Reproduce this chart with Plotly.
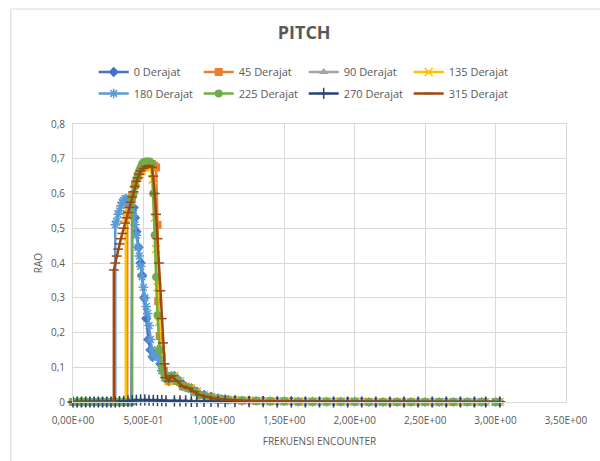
import plotly.graph_objects as go

# ---------------- data ----------------
x_low = [0.00, 0.03, 0.06, 0.09, 0.12, 0.15, 0.18, 0.21, 0.24, 0.27]
y_low = [0, 0, 0, 0, 0, 0, 0, 0, 0, 0]

x_tail_a = [0.70, 0.74, 0.78, 0.82, 0.86, 0.90, 0.95, 1.00, 1.05, 1.10, 1.20, 1.30, 1.40, 1.50,
            1.60, 1.70, 1.80, 1.90, 2.00, 2.10, 2.20, 2.30, 2.40, 2.50, 2.60, 2.70, 2.80, 2.90, 3.00]
x_tail_b = [0.72, 0.76, 0.80, 0.84, 0.88, 0.93, 0.98, 1.03, 1.08, 1.15, 1.25, 1.35, 1.45, 1.55,
            1.65, 1.75, 1.85, 1.95, 2.05, 2.15, 2.25, 2.35, 2.45, 2.55, 2.65, 2.75, 2.85, 2.93, 3.03]
y_tail_peak = [0.075, 0.06, 0.045, 0.04, 0.03, 0.02, 0.015, 0.01, 0.008, 0.006, 0.004, 0.003, 0.002, 0.002,
               0.001, 0.001, 0.001, 0.001, 0.001, 0, 0, 0, 0, 0, 0, 0, 0, 0, 0]
y_tail_flat = [0.003, 0.003, 0.003, 0.002, 0.002, 0.002, 0.002, 0.001, 0.001, 0.001, 0.001, 0.001, 0, 0,
               0, 0, 0, 0, 0, 0, 0, 0, 0, 0, 0, 0, 0, 0, 0]

x_mid_0 = [0.30, 0.33, 0.36, 0.39, 0.415, 0.42, 0.43, 0.44, 0.45, 0.465, 0.48, 0.49, 0.505, 0.52,
           0.535, 0.55, 0.565, 0.58, 0.60, 0.62, 0.64, 0.66, 0.68]
y_mid_0 = [0, 0, 0, 0, 0, 0.55, 0.56, 0.53, 0.49, 0.445, 0.40, 0.365, 0.30, 0.24,
           0.18, 0.15, 0.13, 0.135, 0.14, 0.11, 0.09, 0.07, 0.06]

x_mid_45 = [0.30, 0.33, 0.36, 0.385, 0.385, 0.40, 0.42, 0.44, 0.46, 0.48, 0.50, 0.52, 0.54, 0.56,
            0.575, 0.59, 0.60, 0.605, 0.615, 0.63, 0.645, 0.66, 0.68]
y_mid_45 = [0, 0, 0, 0, 0.54, 0.565, 0.595, 0.625, 0.65, 0.665, 0.675, 0.68, 0.685, 0.685,
            0.68, 0.675, 0.51, 0.29, 0.19, 0.13, 0.09, 0.07, 0.06]

x_mid_90 = [0.30, 0.33, 0.36, 0.39, 0.42, 0.45, 0.48, 0.51, 0.54, 0.57, 0.60, 0.63, 0.66]
y_mid_90 = [0, 0, 0.001, 0.002, 0.003, 0.004, 0.004, 0.004, 0.004, 0.004, 0.003, 0.003, 0.003]

x_mid_135 = [0.30, 0.33, 0.36, 0.375, 0.375, 0.39, 0.41, 0.43, 0.45, 0.47, 0.49, 0.51, 0.53, 0.55,
             0.565, 0.58, 0.59, 0.60, 0.61, 0.625, 0.64, 0.66, 0.68]
y_mid_135 = [0, 0, 0, 0, 0.53, 0.55, 0.58, 0.61, 0.635, 0.655, 0.665, 0.675, 0.68, 0.675,
             0.64, 0.53, 0.44, 0.33, 0.23, 0.15, 0.10, 0.07, 0.06]

x_mid_180 = [0.30, 0.30, 0.31, 0.32, 0.33, 0.34, 0.35, 0.36, 0.37, 0.38, 0.39, 0.40, 0.41, 0.42,
             0.43, 0.44, 0.45, 0.46, 0.47, 0.48, 0.49, 0.50, 0.51, 0.52, 0.53, 0.54, 0.55, 0.56,
             0.57, 0.585, 0.60, 0.615, 0.63, 0.65, 0.67]
y_mid_180 = [0, 0.51, 0.52, 0.54, 0.55, 0.565, 0.575, 0.58, 0.585, 0.585, 0.58, 0.575, 0.565, 0.55,
             0.535, 0.51, 0.48, 0.445, 0.42, 0.39, 0.36, 0.33, 0.30, 0.275, 0.255, 0.22, 0.18, 0.15,
             0.13, 0.135, 0.15, 0.12, 0.09, 0.07, 0.065]

x_mid_225 = [0.30, 0.33, 0.36, 0.39, 0.42, 0.42, 0.43, 0.44, 0.45, 0.46, 0.47, 0.48, 0.49, 0.50,
             0.515, 0.53, 0.545, 0.56, 0.57, 0.58, 0.59, 0.60, 0.615, 0.63, 0.65, 0.67]
y_mid_225 = [0, 0, 0, 0, 0, 0.585, 0.60, 0.62, 0.64, 0.655, 0.665, 0.675, 0.685, 0.69,
             0.692, 0.692, 0.692, 0.685, 0.60, 0.48, 0.36, 0.25, 0.15, 0.10, 0.075, 0.065]

x_mid_270 = [0.30, 0.33, 0.36, 0.39, 0.42, 0.45, 0.48, 0.51, 0.54, 0.57, 0.60, 0.63, 0.66]
y_mid_270 = [0, 0.001, 0.002, 0.003, 0.004, 0.005, 0.006, 0.006, 0.005, 0.005, 0.004, 0.004, 0.003]

x_mid_315 = [0.29, 0.29, 0.30, 0.31, 0.32, 0.33, 0.34, 0.35, 0.36, 0.37, 0.38, 0.39, 0.40, 0.41,
             0.42, 0.43, 0.44, 0.45, 0.46, 0.47, 0.48, 0.50, 0.52, 0.54, 0.56, 0.57, 0.58, 0.59,
             0.60, 0.61, 0.62, 0.63, 0.64, 0.65, 0.66, 0.68]
y_mid_315 = [0, 0.38, 0.40, 0.42, 0.44, 0.455, 0.47, 0.485, 0.50, 0.515, 0.53, 0.545, 0.56, 0.575,
             0.59, 0.605, 0.62, 0.635, 0.645, 0.655, 0.665, 0.672, 0.678, 0.68, 0.675, 0.65, 0.60, 0.54,
             0.47, 0.40, 0.32, 0.24, 0.17, 0.11, 0.07, 0.06]

series_names = ["0 Derajat", "45 Derajat", "90 Derajat", "135 Derajat",
                "180 Derajat", "225 Derajat", "270 Derajat", "315 Derajat"]

x_ticks = [0, 0.5, 1.0, 1.5, 2.0, 2.5, 3.0, 3.5]
x_tick_labels = ["0,00E+00", "5,00E-01", "1,00E+00", "1,50E+00", "2,00E+00", "2,50E+00", "3,00E+00", "3,50E+00"]
y_ticks = [0, 0.1, 0.2, 0.3, 0.4, 0.5, 0.6, 0.7, 0.8]
y_tick_labels = ["0", "0,1", "0,2", "0,3", "0,4", "0,5", "0,6", "0,7", "0,8"]

series_data = [
    (x_low + x_mid_0 + x_tail_b, y_low + y_mid_0 + y_tail_peak),
    (x_low + x_mid_45 + x_tail_a, y_low + y_mid_45 + y_tail_peak),
    (x_low + x_mid_90 + x_tail_b, y_low + y_mid_90 + y_tail_flat),
    (x_low + x_mid_135 + x_tail_b, y_low + y_mid_135 + y_tail_peak),
    (x_low + x_mid_180 + x_tail_a, y_low + y_mid_180 + y_tail_peak),
    (x_low + x_mid_225 + x_tail_a, y_low + y_mid_225 + y_tail_peak),
    (x_low + x_mid_270 + x_tail_b, y_low + y_mid_270 + y_tail_flat),
    (x_low + x_mid_315 + x_tail_a, y_low + y_mid_315 + y_tail_peak),
]

# ---------------- styles ----------------
colors = ["#4472C4", "#ED7D31", "#A5A5A5", "#FFC000", "#5B9BD5", "#70AD47", "#264478", "#9E480E"]
symbols = ["diamond", "square", "triangle-up", "x-thin-open", "asterisk-open", "circle",
           "cross-thin-open", "line-ew-open"]
sizes = [8, 8, 8, 8, 8, 8, 8, 7]
open_sym = [False, False, False, True, True, False, True, True]

fig = go.Figure()
for i, (name, (xs, ys)) in enumerate(zip(series_names, series_data)):
    assert len(xs) == len(ys), name
    c = colors[i]
    marker = dict(symbol=symbols[i], size=sizes[i], color=c)
    if open_sym[i]:
        marker["line"] = dict(color=c, width=1.5)
    else:
        marker["line"] = dict(width=0)
    fig.add_trace(go.Scatter(
        x=xs, y=ys, name=name, mode="lines+markers",
        line=dict(color=c, width=2.5), marker=marker, cliponaxis=False,
        legend="legend" if i < 4 else "legend2",
    ))

txt = "#595959"
grid = "#D9D9D9"
font_family = "Open Sans"

legend_common = dict(orientation="h", xanchor="left", yanchor="top",
                     entrywidth=60, entrywidthmode="pixels", itemwidth=30,
                     font=dict(size=11, color=txt), bgcolor="rgba(0,0,0,0)")

fig.update_layout(
    width=600, height=461,
    margin=dict(l=73, r=28, t=124, b=59),
    paper_bgcolor="white", plot_bgcolor="white",
    font=dict(family=font_family, size=10, color=txt),
    title=dict(text="<b>PITCH</b>", x=0.507, xref="container",
               y=1 - 33 / 461, yanchor="middle", xanchor="center",
               font=dict(size=18, color=txt, family=font_family)),
    legend=dict(x=0.042, y=1.239, **legend_common),
    legend2=dict(x=0.042, y=1.162, **legend_common),
    xaxis=dict(range=[0, 3.5], tickvals=x_ticks, ticktext=x_tick_labels,
               showgrid=True, gridcolor=grid, gridwidth=1, zeroline=False,
               showline=True, linecolor=grid, linewidth=1, mirror=True,
               ticks="", ticklabelstandoff=9, tickfont=dict(size=10, color=txt),
               title=dict(text="FREKUENSI ENCOUNTER", font=dict(size=10, color=txt), standoff=11)),
    yaxis=dict(range=[0, 0.8], tickvals=y_ticks, ticktext=y_tick_labels,
               showgrid=True, gridcolor=grid, gridwidth=1, zeroline=False,
               showline=True, linecolor=grid, linewidth=1, mirror=True,
               ticks="", ticklabelstandoff=5, tickfont=dict(size=10, color=txt),
               title=dict(text="RAO", font=dict(size=10, color=txt), standoff=6)),
    shapes=[dict(type="rect", xref="paper", yref="paper",
                 x0=(10 - 73) / 499, x1=(620 - 73) / 499,
                 y0=(402 - 480) / 278, y1=(402 - 9) / 278,
                 line=dict(color="#D9D9D9", width=1), fillcolor="rgba(0,0,0,0)", layer="below")],
)

fig.write_html("out.html", config={"displayModeBar": False},
               post_script="document.body.style.margin='0';document.body.style.overflow='hidden';")
